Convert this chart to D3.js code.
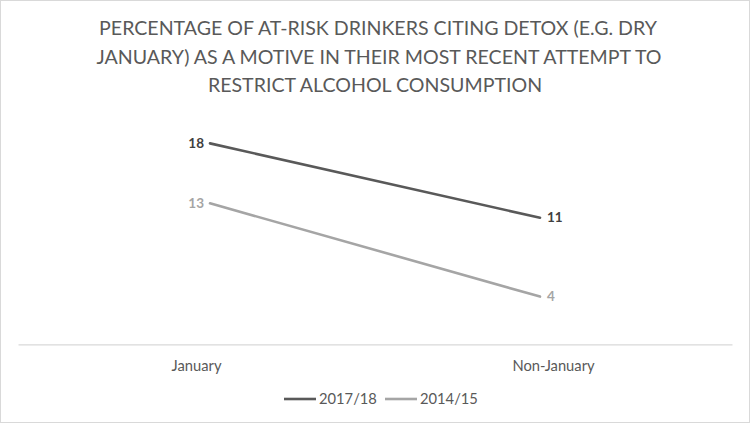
<!DOCTYPE html>
<html>
<head>
<meta charset="utf-8">
<script src="https://cdn.jsdelivr.net/npm/d3@7/dist/d3.min.js"></script>
<style>
  html, body { margin: 0; padding: 0; background: #fff; }
  svg { display: block; font-family: Lato, "Open Sans", sans-serif; }
</style>
</head>
<body>
<svg id="chart" width="750" height="423"></svg>
<script>
const titleLines = [
  "PERCENTAGE OF AT-RISK DRINKERS CITING DETOX (E.G. DRY",
  "JANUARY) AS A MOTIVE IN THEIR MOST RECENT ATTEMPT TO",
  "RESTRICT ALCOHOL CONSUMPTION"
];
const categories = ["January", "Non-January"];
const seriesNames = ["2017/18", "2014/15"];
const values2017 = [18.1, 11.4];
const values2014 = [12.7, 4.3];
const yDomain = [0, 20];

const series = [
  { name: seriesNames[0], values: values2017, color: "#595959", label: "#404040" },
  { name: seriesNames[1], values: values2014, color: "#A5A5A5", label: "#A5A5A5" }
];

const W = 750, H = 423;
const svg = d3.select("#chart");

// border
svg.append("rect").attr("x", 0.5).attr("y", 0.5).attr("width", W - 1).attr("height", H - 1)
  .attr("fill", "#fff").attr("stroke", "#d9d9d9");

function fitSize(sel, target) {
  const w = sel.node().getComputedTextLength();
  const fs = parseFloat(sel.attr("font-size"));
  sel.attr("font-size", fs * target / w);
  return fs * target / w;
}

// title
const tg = svg.append("g");
const baselines = [35, 63.5, 92];
const t0 = tg.append("text").attr("x", 378).attr("y", baselines[0]).attr("text-anchor", "middle")
  .attr("font-size", 20).attr("fill", "#595959").text(titleLines[0]);
const tfs = fitSize(t0, 558);
titleLines.slice(1).forEach((t, i) => {
  tg.append("text").attr("x", i === 0 ? 379 : 375).attr("y", baselines[i + 1]).attr("text-anchor", "middle")
    .attr("font-size", tfs).attr("fill", "#595959").text(t);
});

// scales
const xAxisScale = d3.scaleBand().domain(categories).range([18, 732]);
const xLine = d3.scalePoint().domain(categories).range([210, 540]);
const y = d3.scaleLinear().domain(yDomain).range([344.3, 122.3]);

// axis
const axisG = svg.append("g").attr("transform", `translate(0,${y(0)})`)
  .call(d3.axisBottom(xAxisScale).tickSize(0).tickPadding(16));
axisG.select(".domain").attr("stroke", "#d9d9d9").attr("stroke-width", 1.3);
axisG.selectAll(".tick text").attr("fill", "#595959").attr("font-size", 13.5)
  .attr("font-family", "Lato, sans-serif");
const jt = axisG.select(".tick text");
const tickFs = fitSize(jt, 50);
axisG.selectAll(".tick text").attr("font-size", tickFs);

// lines
const line = d3.line().x((d, i) => xLine(categories[i])).y(d => y(d));
series.forEach(s => {
  svg.append("path").datum(s.values).attr("d", line)
    .attr("fill", "none").attr("stroke", s.color).attr("stroke-width", 2.6)
    .attr("stroke-linecap", "round");
  const fmt = d3.format(".0f");
  s.values.forEach((v, i) => {
    const first = i === 0;
    svg.append("text")
      .attr("x", xLine(categories[i]) + (first ? -6 : 7))
      .attr("y", y(v)).attr("dy", "0.35em")
      .attr("text-anchor", first ? "end" : "start")
      .attr("font-size", 13.5).attr("font-weight", "bold")
      .attr("fill", s.label).text(fmt(v));
  });
});

// legend
const legendX = [284, 385];
series.forEach((s, i) => {
  const g = svg.append("g").attr("transform", `translate(${legendX[i]},399)`);
  g.append("line").attr("x1", 0).attr("x2", 32).attr("y1", 0).attr("y2", 0)
    .attr("stroke", s.color).attr("stroke-width", 2.6);
  g.append("text").attr("x", 35).attr("y", 0).attr("dy", "0.35em")
    .attr("font-size", tickFs).attr("fill", "#595959").text(s.name);
});
</script>
</body>
</html>
